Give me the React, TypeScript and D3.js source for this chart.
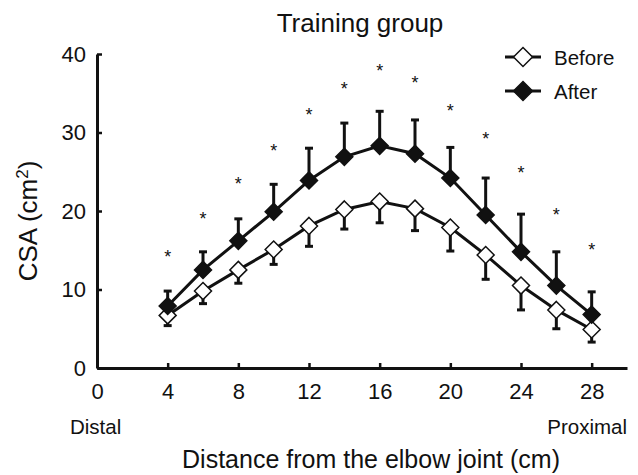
import { useEffect, useRef } from "react";
import * as d3 from "d3";

// distance from elbow joint (cm)
const positions = [4, 6, 8, 10, 12, 14, 16, 18, 20, 22, 24, 26, 28];
const beforeMean = [6.7, 9.8, 12.5, 15.1, 18.1, 20.2, 21.2, 20.3, 17.9, 14.4, 10.5, 7.4, 4.9];
const beforeSD = [1.3, 1.6, 1.7, 1.9, 2.6, 2.5, 2.7, 2.8, 3.0, 3.1, 3.1, 2.4, 1.6];
const afterMean = [7.9, 12.5, 16.2, 19.9, 23.9, 26.9, 28.3, 27.3, 24.2, 19.5, 14.8, 10.5, 6.8];
const afterSD = [1.9, 2.3, 2.8, 3.5, 4.1, 4.3, 4.4, 4.3, 3.9, 4.7, 4.8, 4.3, 2.9];
// level of the significance marks
const starLevel = [14.6, 19.5, 24.0, 28.2, 32.7, 36.0, 38.3, 36.8, 33.3, 29.7, 25.3, 20.0, 15.6];
const xTicks = [0, 4, 8, 12, 16, 20, 24, 28];
const yTicks = [0, 10, 20, 30, 40];

const WIDTH = 638;
const HEIGHT = 475;
const FONT = "'Liberation Sans', Arial, Helvetica, sans-serif";

const App = () => {
  const axesRef = useRef(null);

  const xScale = d3.scaleLinear().domain([0, 30]).range([97, 627]);
  const yScale = d3.scaleLinear().domain([0, 40]).range([368, 54]);

  useEffect(() => {
    const g = d3.select(axesRef.current);
    g.selectAll("*").remove();

    const xAxis = d3.axisBottom(xScale).tickValues(xTicks).tickSizeInner(-5).tickSizeOuter(0).tickPadding(15);
    const gx = g.append("g").attr("transform", `translate(0,${yScale(0)})`).call(xAxis);

    const yAxis = d3.axisLeft(yScale).tickValues(yTicks).tickSizeInner(-5).tickSizeOuter(0).tickPadding(11);
    const gy = g.append("g").attr("transform", `translate(${xScale(0)},0)`).call(yAxis);

    [gx, gy].forEach((a) => {
      a.select(".domain").attr("stroke", "#111").attr("stroke-width", 3);
      a.selectAll(".tick line").attr("stroke", "#111").attr("stroke-width", 2.5);
      a.selectAll(".tick text").attr("font-family", FONT).attr("font-size", 22).attr("fill", "#111");
    });
  }, []);

  const diamond = (cx, cy, r) => `M${cx},${cy - r}L${cx + r},${cy}L${cx},${cy + r}L${cx - r},${cy}Z`;

  const line = d3
    .line<number>()
    .x((_, i) => xScale(positions[i]))
    .y((d) => yScale(d));

  const cap = 4;

  return (
    <svg width={WIDTH} height={HEIGHT} style={{ position: "absolute", left: 0, top: 0, background: "#fff" }}>
      <text x={360} y={32} textAnchor="middle" fontFamily={FONT} fontSize={26} fill="#111">
        Training group
      </text>

      {/* error bars: before downward, after upward */}
      <g stroke="#111" strokeWidth={3}>
        {positions.map((p, i) => {
          const x = xScale(p);
          const y0 = yScale(beforeMean[i]);
          const y1 = yScale(beforeMean[i] - beforeSD[i]);
          return (
            <g key={"b" + i}>
              <line x1={x} x2={x} y1={y0} y2={y1} />
              <line x1={x - cap} x2={x + cap} y1={y1} y2={y1} />
            </g>
          );
        })}
        {positions.map((p, i) => {
          const x = xScale(p);
          const y0 = yScale(afterMean[i]);
          const y1 = yScale(afterMean[i] + afterSD[i]);
          return (
            <g key={"a" + i}>
              <line x1={x} x2={x} y1={y0} y2={y1} />
              <line x1={x - cap} x2={x + cap} y1={y1} y2={y1} />
            </g>
          );
        })}
      </g>

      <path d={line(beforeMean) || ""} fill="none" stroke="#111" strokeWidth={3} />
      <path d={line(afterMean) || ""} fill="none" stroke="#111" strokeWidth={3} />

      {beforeMean.map((v, i) => (
        <path key={"bm" + i} d={diamond(xScale(positions[i]), yScale(v), 8.5)} fill="#fff" stroke="#111" strokeWidth={1.5} />
      ))}
      {afterMean.map((v, i) => (
        <path key={"am" + i} d={diamond(xScale(positions[i]), yScale(v), 8.5)} fill="#111" stroke="#111" strokeWidth={1.5} />
      ))}

      {starLevel.map((v, i) => (
        <text key={"s" + i} x={xScale(positions[i])} y={yScale(v) + 10} textAnchor="middle" fontFamily={FONT} fontSize={18} fill="#111">
          *
        </text>
      ))}

      <g ref={axesRef} />

      <text transform="translate(37,221) rotate(-90)" textAnchor="middle" fontFamily={FONT} fontSize={26} fill="#111">
        CSA (cm<tspan dy={-9} fontSize={17}>2</tspan><tspan dy={9}>)</tspan>
      </text>
      <text x={70} y={434} fontFamily={FONT} fontSize={20.5} fill="#111">
        Distal
      </text>
      <text x={627} y={434} textAnchor="end" fontFamily={FONT} fontSize={20.5} fill="#111">
        Proximal
      </text>
      <text x={371} y={468} textAnchor="middle" fontFamily={FONT} fontSize={25} fill="#111">
        Distance from the elbow joint (cm)
      </text>

      {/* legend */}
      <g>
        <line x1={505} x2={541} y1={57} y2={57} stroke="#111" strokeWidth={3} />
        <path d={diamond(523, 57, 9.5)} fill="#fff" stroke="#111" strokeWidth={1.5} />
        <text x={554} y={64.5} fontFamily={FONT} fontSize={20.5} fill="#111">Before</text>
        <line x1={505} x2={541} y1={91} y2={91} stroke="#111" strokeWidth={3} />
        <path d={diamond(523, 91, 9.5)} fill="#111" stroke="#111" strokeWidth={1.5} />
        <text x={554} y={98.5} fontFamily={FONT} fontSize={20.5} fill="#111">After</text>
      </g>
    </svg>
  );
};

export default App;
